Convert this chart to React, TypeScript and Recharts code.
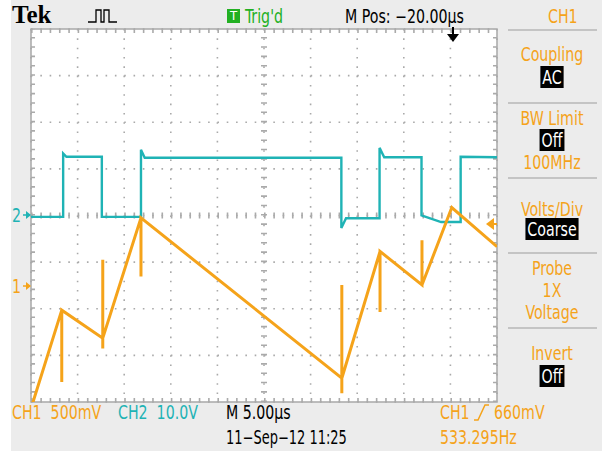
import React from "react";
import { LineChart, Line, XAxis, YAxis, CartesianGrid, ReferenceLine, ReferenceArea } from "recharts";

// time in µs relative to the screen centre (5 µs/div, 10 div)
const CH1_TIME = [-24.8, -21.7, -21.7, -21.7, -17.3, -17.3, -17.3, -17.3, -13.2, -13.2, -13.2, 8.35, 8.35, 8.35, 8.35, 12.45, 12.45, 12.45, 16.95, 16.95, 16.95, 20.15, 25];
const CH1_VOLTS = [-1.25, -0.26, -1.03, -0.26, -0.56, 0.28, -0.67, -0.56, 0.73, 0.1, 0.73, -0.99, 0.01, -1.15, -0.99, 0.37, -0.28, 0.37, 0.01, 0.49, 0.01, 0.84, 0.42];

const CH2_TIME = [-25, -21.55, -21.55, -21.2, -17.4, -17.4, -13.2, -13.2, -12.8, 8.3, 8.3, 8.8, 12.4, 12.4, 12.9, 16.9, 16.9, 19, 20.5, 21.1, 21.1, 25];
const CH2_VOLTS = [-0.3, -0.3, 13.3, 12.6, 12.6, -0.3, -0.3, 14.1, 12.4, 12.4, -2.7, -0.6, -0.6, 14.5, 12.5, 12.5, 0, -1.4, -1.4, -1.4, 12.6, 12.5];

const CH1_SCALE = 0.5; // V/div
const CH1_OFFSET = -1.51; // div
const CH2_SCALE = 10;
const CH2_OFFSET = 0;

const X_TICKS = [-25, -20, -15, -10, -5, 0, 5, 10, 15, 20, 25];
const Y_TICKS = [-4, -3, -2, -1, 0, 1, 2, 3, 4];

const ORANGE = "#f5a31a";
const CYAN = "#1fb3b5";
const GRID = "#aaaaaa";
const FONT = '"DejaVu Sans Condensed", "Liberation Sans", sans-serif';
const SQUEEZE = "scaleX(0.83)";

const DIV_PX = 46.6;
const DOT = "1.6 7.72";

const ch1 = CH1_TIME.map((t, i) => ({ t, y: CH1_VOLTS[i] / CH1_SCALE + CH1_OFFSET }));
const ch2 = CH2_TIME.map((t, i) => ({ t, y: CH2_VOLTS[i] / CH2_SCALE + CH2_OFFSET }));

function Txt({ x, y, color = "#000", size = 19, squeeze = SQUEEZE, children }: any) {
  return (
    <div style={{ position: "absolute", left: x, top: y - size / 2, lineHeight: `${size}px`, fontSize: size, fontFamily: FONT, color, whiteSpace: "pre", transform: squeeze, transformOrigin: "0 50%" }}>
      {children}
    </div>
  );
}

function PanelTxt({ y, color = ORANGE, box = false, children }: any) {
  return (
    <div style={{ position: "absolute", left: 502, width: 100, top: y - 10, textAlign: "center", lineHeight: "20px", fontSize: 19, fontFamily: FONT, color, transform: SQUEEZE }}>
      {box ? <span style={{ background: "#000", color: "#fff", padding: "0 2px" }}>{children}</span> : children}
    </div>
  );
}

export default function App() {
  const ex = (2 / DIV_PX) * 5;
  const ey = 2 / DIV_PX;
  return (
    <div style={{ position: "relative", width: 602, height: 451, background: "#ececec", overflow: "hidden" }}>
      <style>{"body{margin:0}"}</style>
      <div style={{ position: "absolute", left: 0, top: 0, width: 11, height: 451, background: "#fff" }} />
      <div style={{ position: "absolute", left: 31, top: 29, width: 466, height: 373, background: "#fff" }} />
      <div style={{ position: "absolute", left: 0, top: 0 }}>
        <LineChart width={602} height={451} margin={{ top: 29, right: 105, bottom: 49, left: 31 }}>
          <XAxis dataKey="t" type="number" domain={[-25, 25]} ticks={X_TICKS} hide allowDataOverflow />
          <YAxis type="number" domain={[-4, 4]} ticks={Y_TICKS} hide allowDataOverflow />
          <CartesianGrid stroke={GRID} strokeDasharray={DOT} strokeWidth={1.6} />
          <ReferenceLine y={0} stroke={GRID} strokeWidth={6} strokeDasharray={DOT} />
          <ReferenceLine x={0} stroke={GRID} strokeWidth={6} strokeDasharray={DOT} />
          <ReferenceLine y={4 - ey} stroke={GRID} strokeWidth={4} strokeDasharray={DOT} />
          <ReferenceLine y={-4 + ey} stroke={GRID} strokeWidth={4} strokeDasharray={DOT} />
          <ReferenceLine x={-25 + ex} stroke={GRID} strokeWidth={4} strokeDasharray={DOT} />
          <ReferenceLine x={25 - ex} stroke={GRID} strokeWidth={4} strokeDasharray={DOT} />
          <ReferenceArea x1={-25} x2={25} y1={-4} y2={4} fill="#fff" fillOpacity={0} stroke="#a8a8a8" strokeWidth={1.5} />
          <Line data={ch2} dataKey="y" type="linear" stroke={CYAN} strokeWidth={2.4} dot={false} isAnimationActive={false} />
          <Line data={ch1} dataKey="y" type="linear" stroke={ORANGE} strokeWidth={3} dot={false} isAnimationActive={false} />
        </LineChart>
      </div>

      <svg width={602} height={451} style={{ position: "absolute", left: 0, top: 0, pointerEvents: "none" }}>
        {/* pulse icon */}
        <path d="M88 22 h8 v-12 h5 v12 h3 v-12 h5 v12 h8" fill="none" stroke="#000" strokeWidth={1.3} />
        {/* trigger position marker */}
        <path d="M453 27 v13" stroke="#000" strokeWidth={2} />
        <path d="M447 34 L459 34 L453 42 Z" fill="#000" />
        {/* trigger level */}
        <path d="M486 224 L494 218 L494 230 Z" fill={ORANGE} />
        <path d="M492 224 H497" stroke={ORANGE} strokeWidth={2} />
        {/* ground markers */}
        <path d="M23 215 H30" stroke={CYAN} strokeWidth={1.5} />
        <path d="M31 215 L26 211 L26 219 Z" fill={CYAN} />
        <path d="M23 286 H30" stroke={ORANGE} strokeWidth={1.5} />
        <path d="M31 286 L26 282 L26 290 Z" fill={ORANGE} />
        {/* rising edge symbol */}
        <path d="M474 420 H478 L485 405 H489" fill="none" stroke={ORANGE} strokeWidth={1.5} />
        {/* panel separators */}
        {[30, 103, 178, 253, 328].map((y) => (
          <line key={y} x1={508} x2={597} y1={y} y2={y} stroke="#c4c4c4" strokeWidth={2} />
        ))}
      </svg>

      <div style={{ position: "absolute", left: 12, top: 2, fontFamily: '"Liberation Serif", serif', fontWeight: "bold", fontSize: 25, lineHeight: "26px" }}>Tek</div>
      <div style={{ position: "absolute", left: 227, top: 9, width: 13, height: 14, background: "#22b022", color: "#fff", fontFamily: FONT, fontSize: 13, lineHeight: "14px", textAlign: "center" }}>T</div>
      <Txt x={245} y={16} color="#22b022">Trig'd</Txt>
      <Txt x={345} y={16}>M Pos: −20.00µs</Txt>
      <Txt x={548} y={16} color={ORANGE}>CH1</Txt>

      <Txt x={12} y={286} color={ORANGE}>1</Txt>
      <Txt x={12} y={215} color={CYAN}>2</Txt>

      <PanelTxt y={54}>Coupling</PanelTxt>
      <PanelTxt y={77} box>AC</PanelTxt>
      <PanelTxt y={118}>BW Limit</PanelTxt>
      <PanelTxt y={140} box>Off</PanelTxt>
      <PanelTxt y={162}>100MHz</PanelTxt>
      <PanelTxt y={209}>Volts/Div</PanelTxt>
      <PanelTxt y={229} box>Coarse</PanelTxt>
      <PanelTxt y={268}>Probe</PanelTxt>
      <PanelTxt y={290}>1X</PanelTxt>
      <PanelTxt y={312}>Voltage</PanelTxt>
      <PanelTxt y={353}>Invert</PanelTxt>
      <PanelTxt y={376} box>Off</PanelTxt>

      <Txt x={12} y={412} color={ORANGE}>CH1  500mV</Txt>
      <Txt x={118} y={412} color={CYAN}>CH2  10.0V</Txt>
      <Txt x={226} y={412}>M 5.00µs</Txt>
      <Txt x={226} y={437} squeeze="scaleX(0.76)">11−Sep−12 11:25</Txt>
      <Txt x={440} y={412} color={ORANGE}>CH1</Txt>
      <Txt x={494} y={412} color={ORANGE}>660mV</Txt>
      <Txt x={440} y={437} color={ORANGE}>533.295Hz</Txt>
    </div>
  );
}
